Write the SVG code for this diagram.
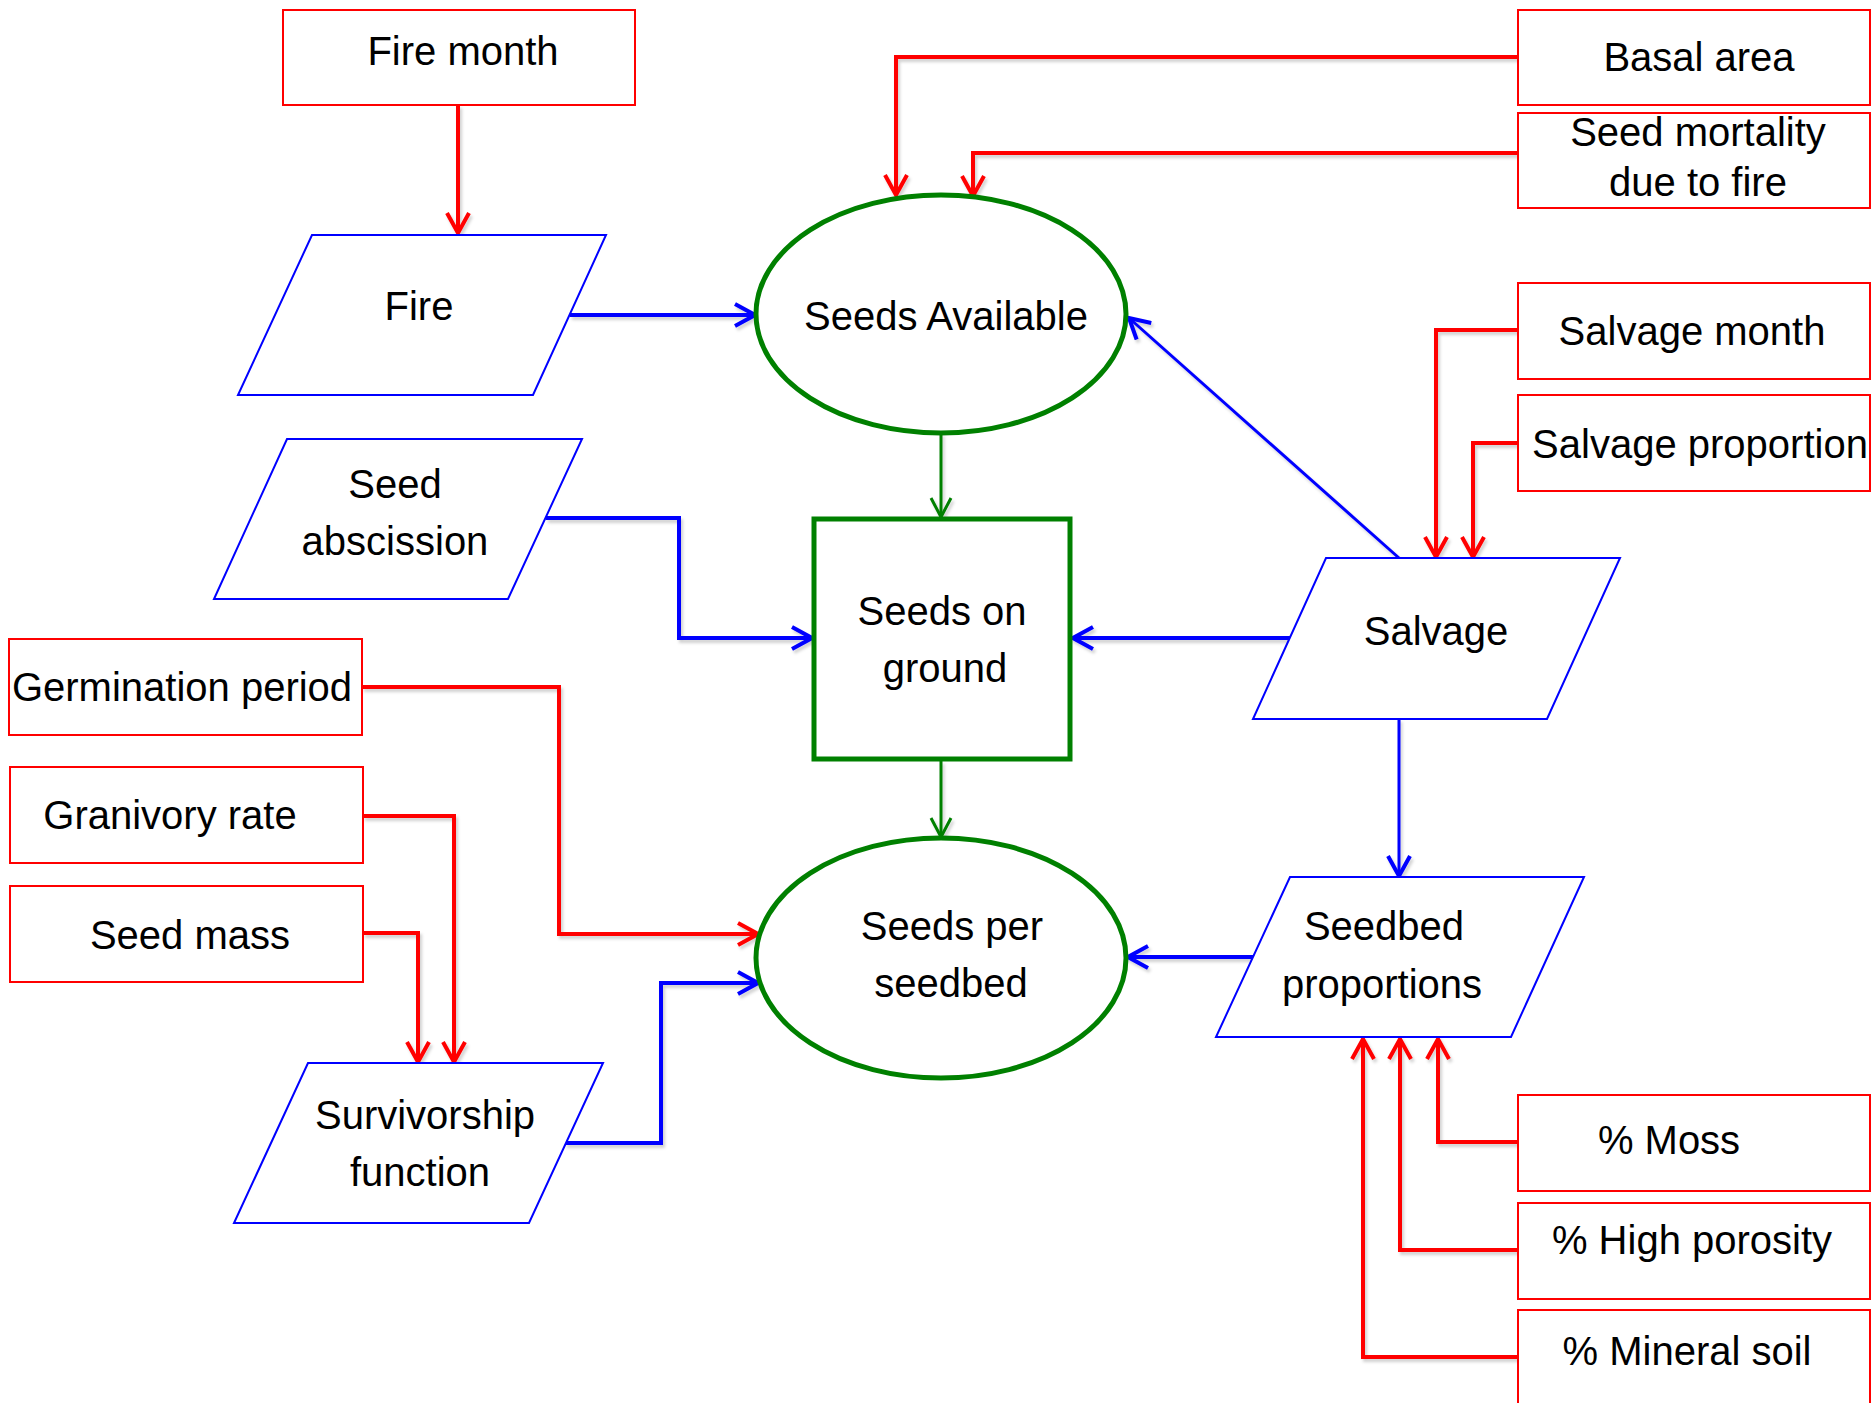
<svg xmlns="http://www.w3.org/2000/svg" width="1872" height="1403" viewBox="0 0 1872 1403">
  <style>
    text { font-family: "Liberation Sans", Arial, sans-serif; font-size: 40px; fill: #000; text-anchor: middle; }
    .param { fill: #fff; stroke: #ff0000; stroke-width: 2; }
    .input { fill: #fff; stroke: #0000ff; stroke-width: 2; }
    .pool { fill: #fff; stroke: #008000; stroke-width: 5; }
    .link { fill: none; stroke-linejoin: miter; filter: url(#shadow); }
    .red { stroke: #ff0000; stroke-width: 4; marker-end: url(#arrowRed); }
    .blue { stroke: #0000ff; stroke-width: 4; marker-end: url(#arrowBlue); }
    .blue-thin { stroke: #0000ff; stroke-width: 3; marker-end: url(#arrowBlue); }
    .green { stroke: #008000; stroke-width: 3; marker-end: url(#arrowGreen); }
  </style>
  <defs>
    <!-- user-space region so straight horizontal/vertical lines still render -->
    <filter id="shadow" filterUnits="userSpaceOnUse" x="0" y="0" width="1872" height="1403">
      <feDropShadow dx="2" dy="3" stdDeviation="1.5" flood-color="#000" flood-opacity="0.18"/>
    </filter>
    <marker id="arrowRed" markerUnits="userSpaceOnUse" viewBox="0 0 26 26" markerWidth="26" markerHeight="26" refX="23" refY="13" orient="auto">
      <path d="M3,2 L23,13 L3,24" fill="none" stroke="#ff0000" stroke-width="4" stroke-linejoin="miter"/>
    </marker>
    <marker id="arrowBlue" markerUnits="userSpaceOnUse" viewBox="0 0 26 26" markerWidth="26" markerHeight="26" refX="23" refY="13" orient="auto">
      <path d="M3,2 L23,13 L3,24" fill="none" stroke="#0000ff" stroke-width="4" stroke-linejoin="miter"/>
    </marker>
    <marker id="arrowGreen" markerUnits="userSpaceOnUse" viewBox="0 0 26 26" markerWidth="26" markerHeight="26" refX="23" refY="13" orient="auto">
      <path d="M4,3 L23,13 L4,23" fill="none" stroke="#008000" stroke-width="3" stroke-linejoin="miter"/>
    </marker>
  </defs>

  <rect width="1872" height="1403" fill="#fff"/>

  <!-- connectors -->
  <g id="connectors">
    <path class="link red" d="M458,105 L458,233"/>
    <path class="link red" d="M1518,57 L896,57 L896,195"/>
    <path class="link red" d="M1518,153 L973,153 L973,196"/>
    <path class="link blue" d="M570,315 L755,315"/>
    <path class="link green" d="M941,433 L941,517"/>
    <path class="link blue-thin" d="M1399,558 L1129,318"/>
    <path class="link blue" d="M546,518 L679,518 L679,638 L812,638"/>
    <path class="link blue" d="M1290,638 L1073,638"/>
    <path class="link red" d="M1518,330 L1436,330 L1436,557"/>
    <path class="link red" d="M1518,443 L1473,443 L1473,557"/>
    <path class="link green" d="M941,761 L941,837"/>
    <path class="link blue-thin" d="M1399,719 L1399,876"/>
    <path class="link red" d="M362,687 L559,687 L559,934 L758,934"/>
    <path class="link red" d="M363,816 L454,816 L454,1062"/>
    <path class="link red" d="M363,933 L418,933 L418,1062"/>
    <path class="link blue" d="M565,1143 L661,1143 L661,983 L758,983"/>
    <path class="link blue" d="M1253,957 L1128,957"/>
    <path class="link red" d="M1518,1142 L1438,1142 L1438,1039"/>
    <path class="link red" d="M1518,1250 L1400,1250 L1400,1039"/>
    <path class="link red" d="M1518,1357 L1363,1357 L1363,1039"/>
  </g>

  <!-- parameter boxes -->
  <g id="fire-month">
    <rect class="param" x="283" y="10" width="352" height="95"/>
    <text x="463" y="65">Fire month</text>
  </g>
  <g id="basal-area">
    <rect class="param" x="1518" y="10" width="352" height="95"/>
    <text x="1699" y="71">Basal area</text>
  </g>
  <g id="seed-mortality">
    <rect class="param" x="1518" y="113" width="352" height="95"/>
    <text x="1698" y="146">Seed mortality</text>
    <text x="1698" y="196">due to fire</text>
  </g>
  <g id="salvage-month">
    <rect class="param" x="1518" y="283" width="352" height="96"/>
    <text x="1692" y="345">Salvage month</text>
  </g>
  <g id="salvage-proportion">
    <rect class="param" x="1518" y="395" width="352" height="96"/>
    <text x="1700" y="458">Salvage proportion</text>
  </g>
  <g id="germination-period">
    <rect class="param" x="9" y="639" width="353" height="96"/>
    <text x="182" y="701">Germination period</text>
  </g>
  <g id="granivory-rate">
    <rect class="param" x="10" y="767" width="353" height="96"/>
    <text x="170" y="829">Granivory rate</text>
  </g>
  <g id="seed-mass">
    <rect class="param" x="10" y="886" width="353" height="96"/>
    <text x="190" y="949">Seed mass</text>
  </g>
  <g id="pct-moss">
    <rect class="param" x="1518" y="1095" width="352" height="96"/>
    <text x="1669" y="1154">% Moss</text>
  </g>
  <g id="pct-high-porosity">
    <rect class="param" x="1518" y="1203" width="352" height="96"/>
    <text x="1692" y="1254">% High porosity</text>
  </g>
  <g id="pct-mineral-soil">
    <rect class="param" x="1518" y="1310" width="352" height="110"/>
    <text x="1687" y="1365">% Mineral soil</text>
  </g>

  <!-- input parallelograms -->
  <g id="fire">
    <polygon class="input" points="312,235 606,235 533,395 238,395"/>
    <text x="419" y="320">Fire</text>
  </g>
  <g id="seed-abscission">
    <polygon class="input" points="287,439 582,439 508,599 214,599"/>
    <text x="395" y="498">Seed</text>
    <text x="395" y="555">abscission</text>
  </g>
  <g id="salvage">
    <polygon class="input" points="1326,558 1620,558 1547,719 1253,719"/>
    <text x="1436" y="645">Salvage</text>
  </g>
  <g id="survivorship-function">
    <polygon class="input" points="308,1063 603,1063 529,1223 234,1223"/>
    <text x="425" y="1129">Survivorship</text>
    <text x="420" y="1186">function</text>
  </g>
  <g id="seedbed-proportions">
    <polygon class="input" points="1290,877 1584,877 1511,1037 1216,1037"/>
    <text x="1384" y="940">Seedbed</text>
    <text x="1382" y="998">proportions</text>
  </g>

  <!-- state pools -->
  <g id="seeds-available">
    <ellipse class="pool" cx="941" cy="314" rx="185" ry="119"/>
    <text x="946" y="330">Seeds Available</text>
  </g>
  <g id="seeds-on-ground">
    <rect class="pool" x="814" y="519" width="256" height="240"/>
    <text x="942" y="625">Seeds on</text>
    <text x="945" y="682">ground</text>
  </g>
  <g id="seeds-per-seedbed">
    <ellipse class="pool" cx="941" cy="958" rx="185" ry="120"/>
    <text x="952" y="940">Seeds per</text>
    <text x="951" y="997">seedbed</text>
  </g>
</svg>
